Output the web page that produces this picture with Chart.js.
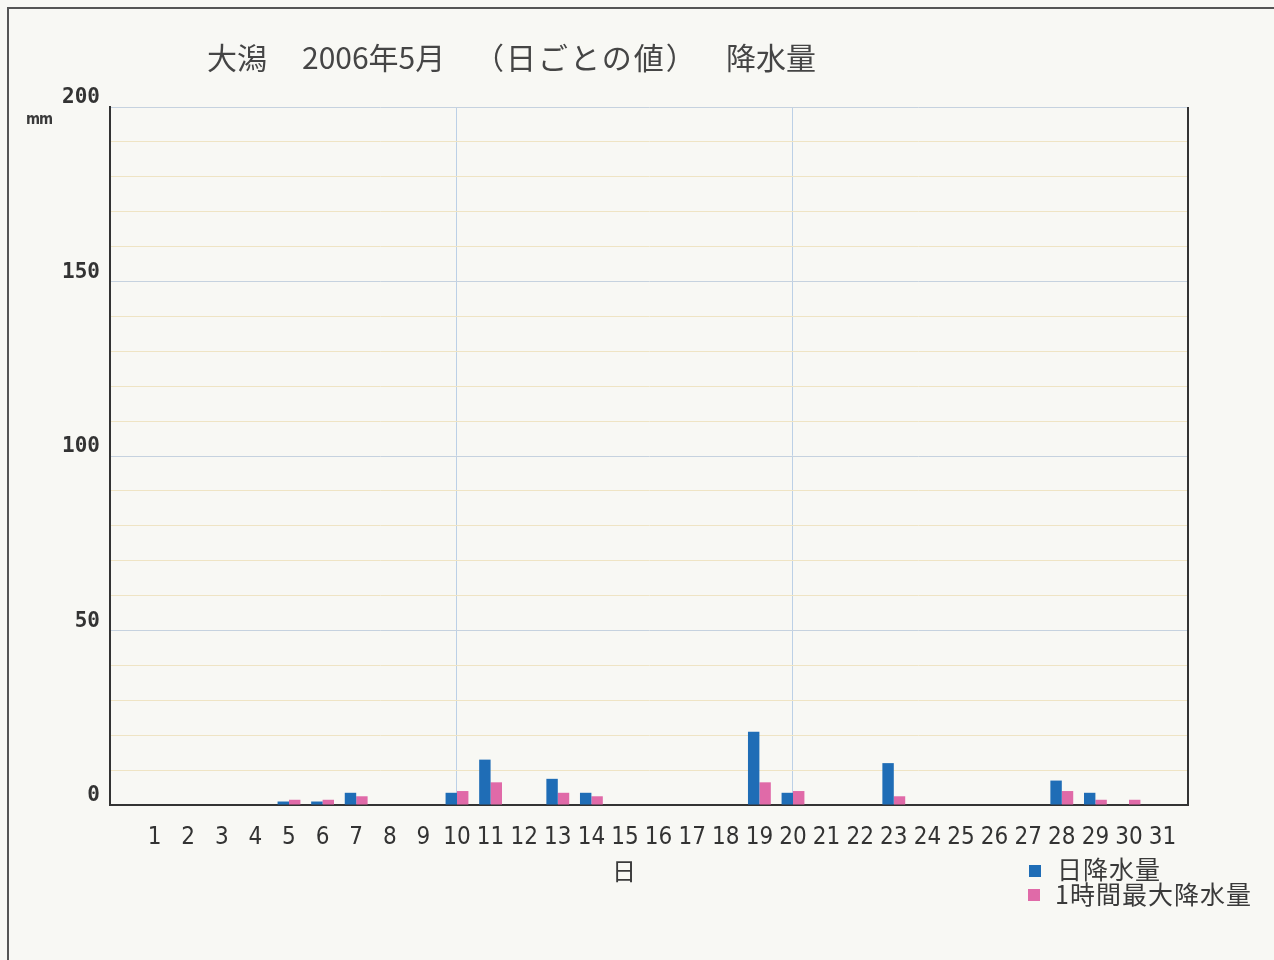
<!DOCTYPE html>
<html lang="ja">
<head>
<meta charset="utf-8">
<title>大潟 2006年5月 降水量</title>
<script src="https://cdn.jsdelivr.net/npm/chart.js@4.4.1/dist/chart.umd.min.js"></script>
<style>
  html, body { margin: 0; padding: 0; background: #f8f8f4; overflow: hidden; }
  #wrap { position: relative; width: 1274px; height: 960px; }
  #frame { position: absolute; left: 7px; top: 7px; width: 1280px; height: 960px;
           border-left: 2px solid #555; border-top: 2px solid #555; box-sizing: border-box; }
  .txt { position: absolute; white-space: pre; color: #3a3a3a; font-family: 'Noto Sans CJK JP', sans-serif; }
  .title { top: 34px; font-size: 30px; color: #454545; }
  #unit { left: 26px; top: 110px; font-size: 15px; font-weight: bold; font-family: 'DejaVu Sans Condensed', 'DejaVu Sans', sans-serif; letter-spacing: -1px; }
  #xname { left: 612px; top: 852px; font-size: 24px; }
  .sw { position: absolute; width: 12px; height: 12px; }
  .lg { font-size: 25px; letter-spacing: 1px; }
</style>
</head>
<body>
<div id="wrap">
  <canvas id="rainChart"></canvas>
  <div id="frame"></div>
  <div class="txt title" style="left:207px;">大潟</div>
  <div class="txt title" style="left:302px;">2006年5月</div>
  <div class="txt title" style="left:474px; letter-spacing:2px;">（日ごとの値）</div>
  <div class="txt title" style="left:726px;">降水量</div>
  <div class="txt" id="unit">mm</div>
  <div class="txt" id="xname">日</div>
  <div class="sw" style="left:1029px; top:865px; background:#1f6db6;"></div>
  <div class="txt lg" style="left:1057px; top:850px;">日降水量</div>
  <div class="sw" style="left:1028px; top:889px; background:#e06aa8;"></div>
  <div class="txt lg" style="left:1055px; top:875px;">1時間最大降水量</div>
</div>
<script>
const days = [1, 2, 3, 4, 5, 6, 7, 8, 9, 10, 11, 12, 13, 14, 15, 16, 17, 18, 19, 20, 21, 22, 23, 24, 25, 26, 27, 28, 29, 30, 31];
const dailyRain = [0, 0, 0, 0, 1.0, 1.0, 3.5, 0, 0, 3.5, 13.0, 0, 7.5, 3.5, 0, 0, 0, 0, 21.0, 3.5, 0, 0, 12.0, 0, 0, 0, 0, 7.0, 3.5, 0, 0];
const maxHourRain = [0, 0, 0, 0, 1.5, 1.5, 2.5, 0, 0, 4.0, 6.5, 0, 3.5, 2.5, 0, 0, 0, 0, 6.5, 4.0, 0, 0, 2.5, 0, 0, 0, 0, 4.0, 1.5, 1.5, 0];
const yLabels = [0, 50, 100, 150, 200];
const xGridDays = [10, 20];

const blue = '#1f6db6';
const pink = '#e06aa8';

function toPoints(values) {
    return days.map((d, i) => ({ x: d, y: values[i] }));
}

const rightEdge = {
    id: 'rightEdge',
    afterDraw(chart) {
        const a = chart.chartArea;
        const ctx = chart.ctx;
        ctx.save();
        ctx.strokeStyle = '#333';
        ctx.lineWidth = 2;
        ctx.beginPath();
        ctx.moveTo(a.right, a.top);
        ctx.lineTo(a.right, a.bottom);
        ctx.stroke();
        ctx.restore();
    }
};

const ctx = document.getElementById('rainChart').getContext('2d');
new Chart(ctx, {
    type: 'bar',
    data: {
        datasets: [
            { label: '日降水量', data: toPoints(dailyRain), backgroundColor: blue, borderWidth: 0 },
            { label: '1時間最大降水量', data: toPoints(maxHourRain), backgroundColor: pink, borderWidth: 0 }
        ]
    },
    options: {
        responsive: true,
        maintainAspectRatio: false,
        animation: false,
        categoryPercentage: 0.68,
        barPercentage: 1.0,
        layout: { padding: { left: 0, right: 86, top: 107, bottom: 0 } },
        plugins: {
            legend: { display: false },
            tooltip: { enabled: false }
        },
        scales: {
            x: {
                type: 'linear',
                offset: false,
                min: -0.327,
                max: 31.756,
                afterBuildTicks: (axis) => { axis.ticks = days.map(d => ({ value: d })); },
                afterFit: (axis) => { axis.height = 155; },
                ticks: {
                    autoSkip: false,
                    maxRotation: 0,
                    padding: 18,
                    color: '#333',
                    font: { family: "'Liberation Sans Narrow', 'DejaVu Sans Condensed', sans-serif", size: 24 },
                    callback: (v) => String(v)
                },
                grid: {
                    offset: false,
                    drawTicks: false,
                    color: (c) => xGridDays.includes(c.tick && c.tick.value) ? '#bcd0e6' : 'rgba(0,0,0,0)',
                    lineWidth: 1
                },
                border: { color: '#333', width: 2 }
            },
            y: {
                min: 0,
                max: 200,
                afterFit: (axis) => { axis.width = 110; },
                ticks: {
                    stepSize: 10,
                    padding: 10,
                    labelOffset: -9,
                    color: '#333',
                    font: { family: "'DejaVu Sans Mono', monospace", size: 21, weight: 'bold' },
                    callback: (v) => yLabels.includes(v) ? String(v) : ''
                },
                grid: {
                    drawTicks: false,
                    color: (c) => (c.tick.value % 50 === 0) ? '#c6d2df' : '#efe4c4',
                    lineWidth: 1
                },
                border: { color: '#333', width: 2 }
            }
        }
    },
    plugins: [rightEdge]
});
</script>
</body>
</html>
